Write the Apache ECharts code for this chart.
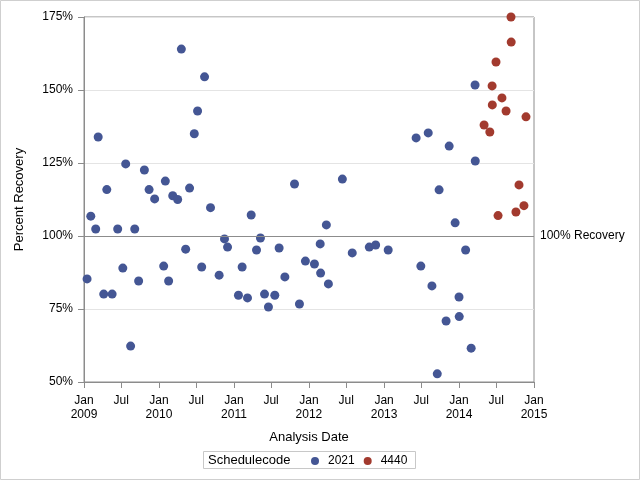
<!DOCTYPE html>
<html>
<head>
<meta charset="utf-8">
<script src="https://cdn.jsdelivr.net/npm/echarts@6/dist/echarts.min.js"></script>
<style>
html,body{margin:0;padding:0;background:#fff;}
#chart{width:640px;height:480px;}
</style>
</head>
<body>
<div id="chart"></div>
<script>
// ---- Data ----
const dates2021 = [
 '2009-01-16','2009-02-03','2009-02-27','2009-03-11','2009-04-07','2009-04-22','2009-05-18','2009-06-14',
 '2009-07-09','2009-07-23','2009-08-16','2009-09-05','2009-09-24','2009-10-22','2009-11-14','2009-12-11',
 '2010-01-24','2010-02-01','2010-02-17','2010-03-09','2010-04-02','2010-04-20','2010-05-11','2010-05-30',
 '2010-06-22','2010-07-08','2010-07-28','2010-08-11','2010-09-09','2010-10-21','2010-11-16','2010-12-01',
 '2011-01-23','2011-02-10','2011-03-08','2011-03-26','2011-04-21','2011-05-10','2011-05-30','2011-06-18',
 '2011-07-19','2011-08-09','2011-09-06','2011-10-23','2011-11-16','2011-12-15','2012-01-28','2012-02-25',
 '2012-02-27','2012-03-26','2012-04-05','2012-06-12','2012-07-30','2012-10-21','2012-11-21','2013-01-21',
 '2013-06-06','2013-06-29','2013-08-04','2013-08-22','2013-09-17','2013-09-26','2013-10-30','2013-11-14',
 '2013-12-13','2014-01-01','2014-01-02','2014-02-02','2014-03-01','2014-03-20','2014-03-21'
];
const values2021 = [
 85.3,106.8,102.4,133.9,80.1,115.9,80.1,102.4,
 89.0,124.7,62.3,102.4,84.6,122.6,115.9,112.7,
 89.7,118.8,84.6,113.8,112.5,164.0,95.5,116.4,
 135.0,142.8,89.4,154.5,109.7,86.6,99.0,96.2,
 79.7,89.4,78.8,107.2,95.2,99.3,80.1,75.7,
 79.7,95.9,86.0,117.8,76.7,91.4,90.4,97.3,
 87.3,103.8,83.6,119.5,94.2,96.2,96.9,95.2,
 133.6,89.7,135.3,82.9,52.8,115.8,70.9,130.8,
 104.5,79.1,72.4,95.2,61.6,151.7,125.7
];
const dates4440 = [
 '2014-05-03','2014-05-31','2014-06-11','2014-06-12','2014-06-30','2014-07-10','2014-07-29',
 '2014-08-18','2014-09-11','2014-09-12','2014-10-05','2014-10-20','2014-11-13','2014-11-23'
];
const values4440 = [
 138.0,135.6,151.4,144.9,159.6,107.0,147.3,
 142.8,175.0,166.4,108.2,117.5,110.4,140.8
];
const xTickDates = [
 '2009-01-01','2009-07-01','2010-01-01','2010-07-01','2011-01-01','2011-07-01','2012-01-01',
 '2012-07-01','2013-01-01','2013-07-01','2014-01-01','2014-07-01','2015-01-01'
];
const yTicks = [50, 75, 100, 125, 150, 175];
const refValue = 100;
const refLabel = '100% Recovery';
const seriesNames = ['2021', '4440'];
const legendTitle = 'Schedulecode';

const FONT = '"Liberation Sans", Arial, sans-serif';
const AXIS = '#8c8c8c';

function ts(s) { const p = s.split('-').map(Number); return Date.UTC(p[0], p[1] - 1, p[2]); }
const xTickTs = xTickDates.map(ts);
const pair = (d, v) => d.map((x, i) => [ts(x), v[i]]);

const chart = echarts.init(document.getElementById('chart'), null, {renderer: 'canvas'});

chart.setOption({
  animation: false,
  backgroundColor: '#ffffff',
  textStyle: {fontFamily: FONT},
  grid: {left: 84, right: 106, top: 17, bottom: 98, show: true, borderColor: AXIS, borderWidth: 1,
         containLabel: false, outerBoundsMode: 'none'},
  xAxis: {
    type: 'value',
    min: xTickTs[0], max: xTickTs[xTickTs.length - 1],
    name: 'Analysis Date', nameLocation: 'middle', nameGap: 49,
    nameTextStyle: {fontSize: 13, color: '#000', fontFamily: FONT},
    axisLine: {show: true, onZero: false, lineStyle: {color: AXIS, width: 1}},
    axisTick: {show: true, length: 6, lineStyle: {color: AXIS}, customValues: xTickTs},
    axisLabel: {
      customValues: xTickTs, margin: 12, fontSize: 12, color: '#000', fontFamily: FONT,
      lineHeight: 14, hideOverlap: false, showMinLabel: true, showMaxLabel: true,
      formatter: function (val) {
        const d = new Date(val);
        return d.getUTCMonth() === 0 ? 'Jan\n' + d.getUTCFullYear() : 'Jul';
      }
    },
    splitLine: {show: false}
  },
  yAxis: {
    type: 'value', min: yTicks[0], max: yTicks[yTicks.length - 1], interval: 25,
    name: 'Percent Recovery', nameLocation: 'middle', nameGap: 58,
    nameTextStyle: {fontSize: 13, color: '#000', fontFamily: FONT},
    axisLine: {show: true, onZero: false, lineStyle: {color: AXIS, width: 1}},
    axisTick: {show: true, length: 6, lineStyle: {color: AXIS}},
    axisLabel: {formatter: '{value}%', margin: 11, fontSize: 12, color: '#000', fontFamily: FONT},
    splitLine: {show: true, lineStyle: {color: '#e4e4e4', width: 1}}
  },
  legend: {
    data: seriesNames, left: 306, top: 450, orient: 'horizontal',
    itemWidth: 16, itemHeight: 8, itemGap: 9, icon: 'circle',
    textStyle: {fontSize: 12, color: '#000', fontFamily: FONT},
    selectedMode: false
  },
  graphic: [
    {type: 'rect', silent: true, shape: {x: 0.5, y: 0.5, width: 639, height: 479},
     style: {fill: 'none', stroke: '#cfcfcf', lineWidth: 1}, z: 100},
    {type: 'rect', silent: true, shape: {x: 203.5, y: 451.5, width: 212, height: 17},
     style: {fill: 'none', stroke: '#c8c8c8', lineWidth: 1}, z: 100},
    {type: 'text', silent: true, x: 208, y: 460,
     style: {text: legendTitle, fontSize: 13, fill: '#000', fontFamily: FONT, verticalAlign: 'middle'}, z: 100}
  ],
  series: [
    {
      name: seriesNames[0], type: 'scatter', symbol: 'circle', symbolSize: 9,
      itemStyle: {color: '#445694', opacity: 1},
      data: pair(dates2021, values2021),
      markLine: {
        silent: true, symbol: 'none',
        lineStyle: {color: '#8c8c8c', type: 'solid', width: 1},
        label: {show: true, position: 'end', distance: 6, formatter: refLabel,
                fontSize: 12, color: '#000', fontFamily: FONT},
        data: [{yAxis: refValue}]
      }
    },
    {
      name: seriesNames[1], type: 'scatter', symbol: 'circle', symbolSize: 9,
      itemStyle: {color: '#a23a2e', opacity: 1},
      data: pair(dates4440, values4440)
    }
  ]
});
</script>
</body>
</html>
